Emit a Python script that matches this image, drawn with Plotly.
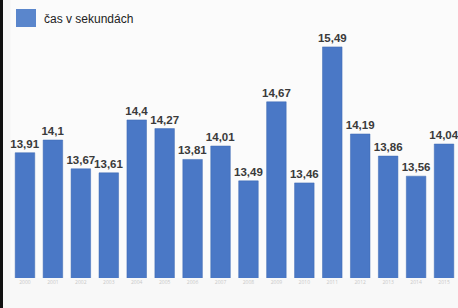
import plotly.graph_objects as go

years = [str(y) for y in range(2000, 2016)]
values = [13.91, 14.1, 13.67, 13.61, 14.4, 14.27, 13.81, 14.01, 13.49, 14.67, 13.46, 15.49, 14.19, 13.86, 13.56, 14.04]
labels = [f"{v:g}".replace(".", ",") for v in values]
series_name = "čas v sekundách"

W, H = 458, 308
L, B = 11, 30  # plot area offsets in pixels

fig = go.Figure()
fig.add_trace(go.Bar(
    x=years, y=values, name=series_name,
    marker=dict(color="#4a78c6", line=dict(color="#3d68b3", width=0.5)),
    width=0.7,
    text=labels, textposition="outside", cliponaxis=False, constraintext="none",
    textfont=dict(family="Liberation Sans", size=11.5, color="#3a3a3a", weight="bold"),
    showlegend=False, hoverinfo="skip",
))

fig.update_layout(
    width=W, height=H,
    margin=dict(l=0, r=0, t=0, b=0),
    paper_bgcolor="#f8f8f8",
    plot_bgcolor="#fbfbfb",
    xaxis=dict(type="category", domain=[L / W, 1], tickfont=dict(size=5, color="#c8c8c8"),
               showgrid=False, ticks="", showline=False, zeroline=False, range=[-0.5, 15.5]),
    yaxis=dict(domain=[B / H, 1], range=[12.04, 16.19], visible=False, showgrid=False),
    annotations=[
        dict(text=series_name, xref="paper", yref="paper", x=42 / W, y=1 - 10 / H,
             xanchor="left", yanchor="top", showarrow=False,
             font=dict(family="Liberation Sans", size=12, color="#222222")),
    ],
)
fig.add_shape(type="rect", xref="paper", yref="paper",
              x0=16 / W, x1=36 / W, y0=1 - 27 / H, y1=1 - 9 / H,
              fillcolor="#5a86cc", line=dict(width=0))
post = (
    "document.body.style.margin='0';document.body.style.overflow='hidden';"
    "var d=document.createElement('div');"
    "d.style.cssText='position:fixed;left:0;top:0;width:3px;height:100%;background:#111;z-index:10;pointer-events:none';"
    "document.body.appendChild(d);"
)
fig.write_html("out.html", config={"displayModeBar": False}, post_script=post)
